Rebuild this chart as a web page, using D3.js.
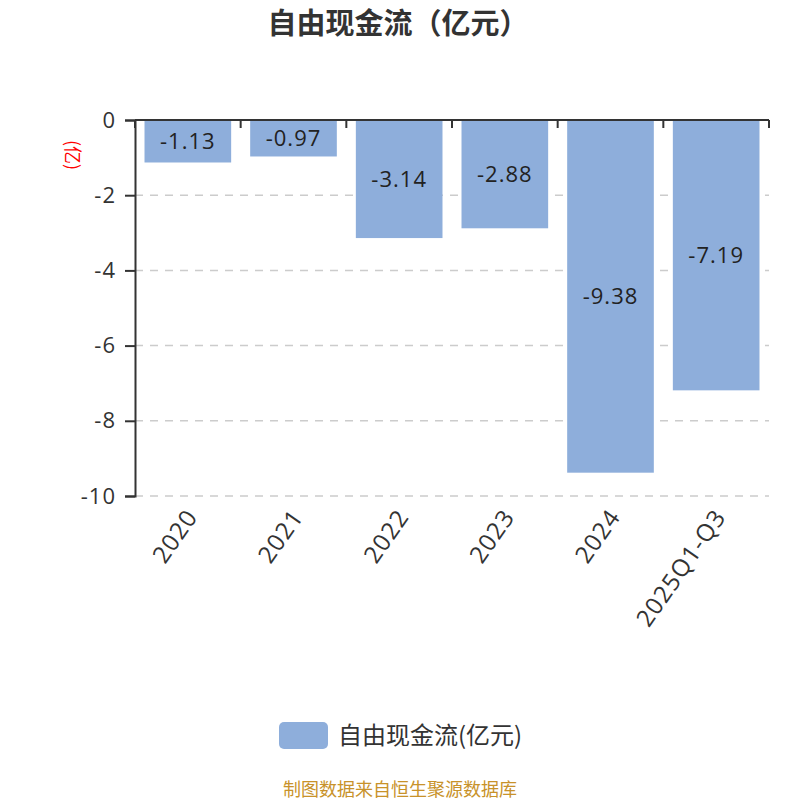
<!DOCTYPE html>
<html>
<head>
<meta charset="utf-8">
<script src="https://cdn.jsdelivr.net/npm/d3@7"></script>
<style>
  body { margin: 0; background: #fff; }
  svg { font-family: "Open Sans", "Noto Sans CJK SC", sans-serif; }
  .cjk { font-family: "Noto Sans CJK SC", sans-serif; }
</style>
</head>
<body>
<svg id="chart" width="800" height="800"></svg>
<script>
const categories = ["2020", "2021", "2022", "2023", "2024", "2025Q1-Q3"];
const values = [-1.13, -0.97, -3.14, -2.88, -9.38, -7.19];
const yTicks = [0, -2, -4, -6, -8, -10];
const title = "自由现金流（亿元）";
const seriesName = "自由现金流(亿元)";
const unitLabel = "(亿)";
const source = "制图数据来自恒生聚源数据库";

const svg = d3.select("svg#chart");
const barColor = "#8eaedb";

// plot area
const plot = { left: 135, right: 769, top: 120, bottom: 496 };

const xScale = d3.scaleBand()
  .domain(categories)
  .range([plot.left, plot.right])
  .padding(0);

const yScale = d3.scaleLinear()
  .domain([0, -10])
  .range([plot.top, plot.bottom]);

// title
svg.append("text")
  .attr("class", "cjk")
  .attr("x", 398).attr("y", 24)
  .attr("dy", "0.35em")
  .attr("text-anchor", "middle")
  .attr("font-size", 29).attr("font-weight", "bold")
  .attr("fill", "#333")
  .text(title);

// grid lines
svg.append("g")
  .selectAll("line")
  .data(yTicks.filter(d => d !== 0))
  .join("line")
  .attr("x1", plot.left).attr("x2", plot.right)
  .attr("y1", d => yScale(d)).attr("y2", d => yScale(d))
  .attr("stroke", "#ccc").attr("stroke-width", 1.5)
  .attr("stroke-dasharray", "8,7");

// bars
const inset = xScale.bandwidth() * 0.09;
svg.append("g")
  .selectAll("rect")
  .data(values)
  .join("rect")
  .attr("x", (d, i) => xScale(categories[i]) + inset)
  .attr("width", xScale.bandwidth() - 2 * inset)
  .attr("y", yScale(0))
  .attr("height", d => yScale(d) - yScale(0))
  .attr("fill", barColor);

// value labels
svg.append("g")
  .selectAll("text")
  .data(values)
  .join("text")
  .attr("x", (d, i) => xScale(categories[i]) + xScale.bandwidth() / 2)
  .attr("y", d => (yScale(d) + yScale(0)) / 2)
  .attr("dy", "0.35em")
  .attr("text-anchor", "middle")
  .attr("font-size", 22)
  .attr("letter-spacing", 1)
  .attr("fill", "#222")
  .text(d => d.toFixed(2));

// y axis
const yAxis = d3.axisLeft(yScale).tickValues(yTicks).tickSize(10).tickPadding(9).tickFormat(d => String(d));
const yG = svg.append("g").attr("transform", `translate(${plot.left},0)`).call(yAxis);
yG.select(".domain").attr("stroke", "#333").attr("stroke-width", 2);
yG.selectAll(".tick line").attr("stroke", "#333").attr("stroke-width", 2);
yG.selectAll(".tick text").attr("font-size", 22).attr("fill", "#333")
  .attr("letter-spacing", 1)
  .attr("font-family", "'Open Sans', sans-serif");

// x axis at top (value 0), ticks on band boundaries
const xG = svg.append("g").attr("transform", `translate(0,${plot.top})`);
xG.append("line")
  .attr("x1", plot.left).attr("x2", plot.right)
  .attr("stroke", "#333").attr("stroke-width", 2);
const edges = categories.map(c => xScale(c)).concat([plot.right]);
xG.selectAll("line.tick")
  .data(edges)
  .join("line")
  .attr("class", "tick")
  .attr("x1", d => d).attr("x2", d => d)
  .attr("y1", 0).attr("y2", 8)
  .attr("stroke", "#333").attr("stroke-width", 2);

// x labels rotated below the chart
svg.append("g")
  .selectAll("text")
  .data(categories)
  .join("text")
  .attr("transform", d => `translate(${xScale(d) + xScale.bandwidth() / 2 + 4},${plot.bottom + 16}) rotate(-55)`)
  .attr("text-anchor", "end")
  .attr("dy", "0.35em")
  .attr("font-size", 24)
  .attr("letter-spacing", 1)
  .attr("fill", "#333")
  .text(d => d);

// unit label
svg.append("text")
  .attr("class", "cjk")
  .attr("transform", "translate(72,155) rotate(90)")
  .attr("text-anchor", "middle")
  .attr("dy", "0.35em")
  .attr("font-size", 18)
  .attr("fill", "red")
  .text(unitLabel);

// legend
const legend = svg.append("g").attr("transform", "translate(279,722)");
legend.append("rect")
  .attr("width", 49).attr("height", 27).attr("rx", 5)
  .attr("fill", barColor);
legend.append("text")
  .attr("class", "cjk")
  .attr("x", 59).attr("y", 14).attr("dy", "0.35em")
  .attr("font-size", 24).attr("fill", "#333")
  .text(seriesName);

// footer
svg.append("text")
  .attr("class", "cjk")
  .attr("x", 400).attr("y", 796)
  .attr("text-anchor", "middle")
  .attr("font-size", 18)
  .attr("fill", "#c8922a")
  .text(source);
</script>
</body>
</html>
